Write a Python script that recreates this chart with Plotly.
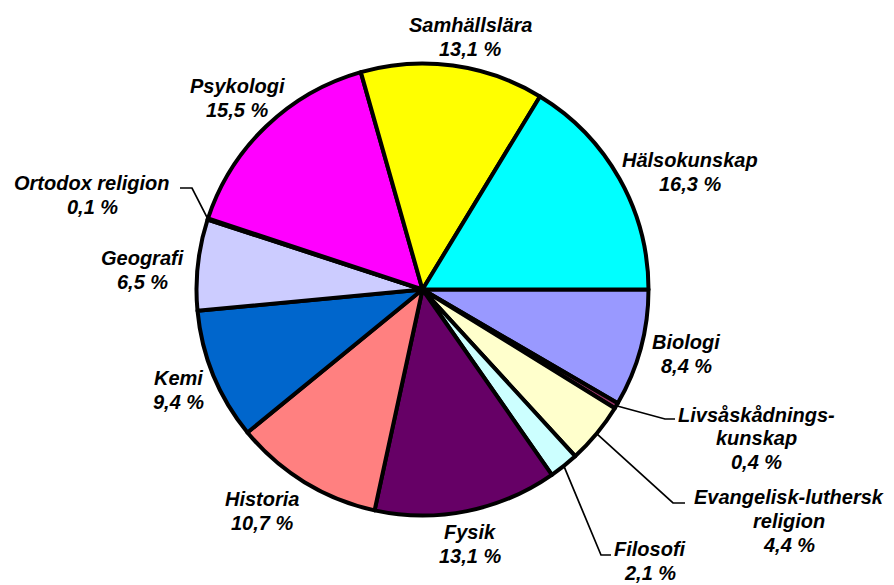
import math
import plotly.graph_objects as go

labels = ["Biologi", "Livsåskådnings-<br>kunskap", "Evangelisk-luthersk<br>religion", "Filosofi",
          "Fysik", "Historia", "Kemi", "Geografi", "Ortodox religion", "Psykologi",
          "Samhällslära", "Hälsokunskap"]
values = [8.4, 0.4, 4.4, 2.1, 13.1, 10.7, 9.4, 6.5, 0.1, 15.5, 13.1, 16.3]
colors = ["#9999FF", "#993366", "#FFFFCC", "#CCFFFF", "#660066", "#FF8080",
          "#0066CC", "#CCCCFF", "#000080", "#FF00FF", "#FFFF00", "#00FFFF"]

W, H = 894, 585          # window size
OFF = 8                  # page body margin
FW, FH = W - OFF, H - OFF
CX, CY, R = 422.5, 289.5, 226  # pie centre / radius in window px


def px2paper(x, y):
    return (x - OFF) / FW, 1 - (y - OFF) / FH


# label block centres (px) and leader-line elbows (px) -- layout only
label_pos = {
    "Biologi": (686, 354),
    "Livsåskådnings-<br>kunskap": (756, 438),
    "Evangelisk-luthersk<br>religion": (789, 521),
    "Filosofi": (650, 561),
    "Fysik": (470, 544),
    "Historia": (262, 511),
    "Kemi": (178, 390),
    "Geografi": (142, 270),
    "Ortodox religion": (92, 195),
    "Psykologi": (237, 98),
    "Samhällslära": (470, 37),
    "Hälsokunskap": (690, 172),
}
leaders = {
    "Livsåskådnings-<br>kunskap": [(665, 419), (675, 419)],
    "Evangelisk-luthersk<br>religion": [(673, 503), (685, 503)],
    "Filosofi": [(601, 555), (611, 555)],
    "Ortodox religion": [(192, 188), (180, 188)],
}

x0, y0 = px2paper(CX - R, CY + R)
x1, y1 = px2paper(CX + R, CY - R)
fig = go.Figure(go.Pie(
    labels=labels, values=values, sort=False, direction="clockwise", rotation=90,
    marker=dict(colors=colors, line=dict(color="black", width=4)),
    textinfo="none", showlegend=False,
    domain=dict(x=[x0, x1], y=[y0, y1]),
    hoverinfo="label+value",
))

font = dict(family="Liberation Sans, Arial", size=20, color="black")
pitch = 23.5
total = sum(values)
cum = 0.0
shapes = []
annotations = []
for lab, val in zip(labels, values):
    mid = (cum + val / 2) / total * 2 * math.pi
    cum += val
    lx, ly = label_pos[lab]
    pct = f"{val:.1f}".replace(".", ",") + " %"
    lines = lab.split("<br>") + [pct]
    n = len(lines)
    for i, t in enumerate(lines):
        yy = ly + (i - (n - 1) / 2) * pitch
        ax_, ay_ = px2paper(lx, yy)
        annotations.append(dict(
            x=ax_, y=ay_, xref="paper", yref="paper", text=f"<b><i>{t}</i></b>",
            showarrow=False, xanchor="center", yanchor="middle", font=font))
    if lab in leaders:
        px = CX + R * math.cos(mid)
        py = CY + R * math.sin(mid)
        pts = [(px, py)] + leaders[lab]
        path = "M " + " L ".join("{},{}".format(*px2paper(x, y)) for x, y in pts)
        shapes.append(dict(type="path", path=path, xref="paper", yref="paper",
                           line=dict(color="black", width=1.7)))

fig.update_layout(width=FW, height=FH, margin=dict(l=0, r=0, t=0, b=0),
                  paper_bgcolor="white", plot_bgcolor="white",
                  annotations=annotations, shapes=shapes)
fig.write_html("out.html")
